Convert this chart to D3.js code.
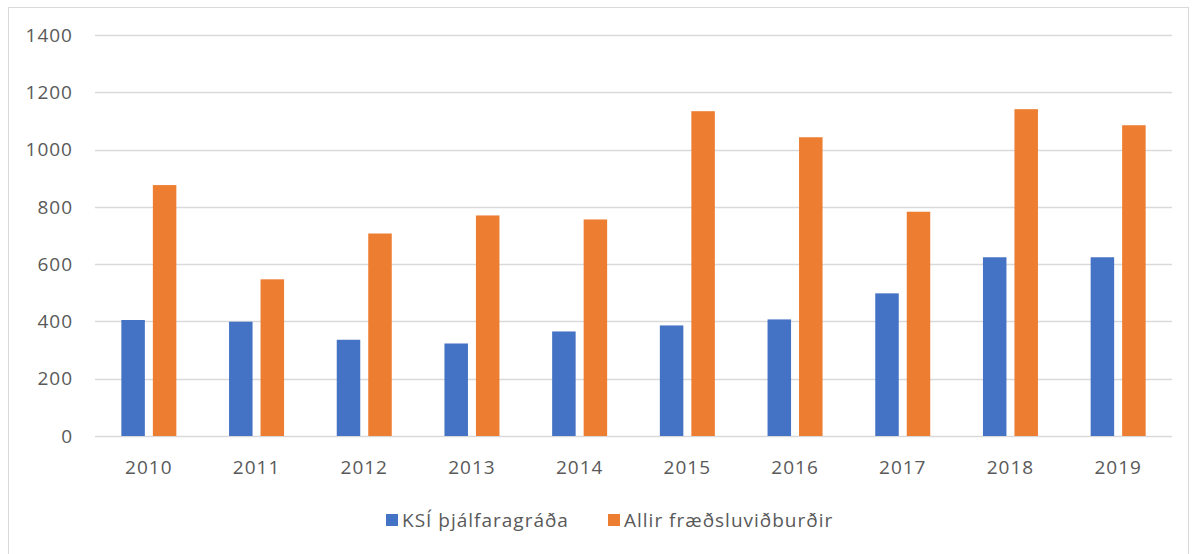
<!DOCTYPE html>
<html>
<head>
<meta charset="utf-8">
<script src="https://cdn.jsdelivr.net/npm/d3@7"></script>
<style>
  body { margin: 0; background: #fff; }
  text { font-family: "Open Sans", "Noto Sans", sans-serif; fill: #595959; letter-spacing: 1px; }
</style>
</head>
<body>
<svg id="chart"></svg>
<script>
// data
const years = ["2010", "2011", "2012", "2013", "2014", "2015", "2016", "2017", "2018", "2019"];
const ksiValues = [405, 399, 336, 323, 365, 386, 407, 498, 624, 624];
const allirValues = [876, 547, 707, 770, 756, 1134, 1043, 783, 1141, 1085];
const seriesNames = ["KSÍ þjálfaragráða", "Allir fræðsluviðburðir"];
const yTicks = [0, 200, 400, 600, 800, 1000, 1200, 1400];

const width = 1192;
const height = 554;
const margin = {left: 95, right: 20, top: 35, bottom: 118};
const colors = ["#4472C4", "#ED7D31"];

const svg = d3.select("#chart")
  .attr("width", width)
  .attr("height", height);

// outer frame
svg.append("rect")
  .attr("x", 8.5).attr("y", 7.5)
  .attr("width", 1180).attr("height", 560)
  .attr("fill", "none")
  .attr("stroke", "#d9d9d9");

var x = d3.scaleBand()
  .domain(years)
  .range([margin.left, width - margin.right]);

var y = d3.scaleLinear()
  .domain([0, 1400])
  .range([height - margin.bottom, margin.top]);

// gridlines
svg.append("g")
  .selectAll("line")
  .data(yTicks)
  .join("line")
  .attr("x1", margin.left)
  .attr("x2", width - margin.right)
  .attr("y1", d => Math.round(y(d)) + 0.5)
  .attr("y2", d => Math.round(y(d)) + 0.5)
  .attr("stroke", "#d9d9d9")
  .attr("stroke-width", 1.3);

// y labels
svg.append("g")
  .selectAll("text")
  .data(yTicks)
  .join("text")
  .attr("x", 73)
  .attr("y", d => y(d))
  .attr("dy", "0.35em")
  .attr("text-anchor", "end")
  .attr("font-size", 19)
  .text(d => d);

// x labels
svg.append("g")
  .selectAll("text")
  .data(years)
  .join("text")
  .attr("x", d => x(d) + x.bandwidth() / 2)
  .attr("y", 467)
  .attr("dy", "0.35em")
  .attr("text-anchor", "middle")
  .attr("font-size", 19)
  .text(d => d);

// bars
const barW = 23.5;
const gap = 8;
const series = [ksiValues, allirValues];

series.forEach((vals, i) => {
  svg.append("g")
    .selectAll("rect")
    .data(vals)
    .join("rect")
    .attr("x", (d, j) => x(years[j]) + x.bandwidth() / 2 - barW - gap / 2 + i * (barW + gap))
    .attr("y", d => y(d))
    .attr("width", barW)
    .attr("height", d => y(0) - y(d))
    .attr("fill", colors[i]);
});

// legend
const legendX = [386, 608];
const legend = svg.append("g");
seriesNames.forEach((name, i) => {
  legend.append("rect")
    .attr("x", legendX[i])
    .attr("y", 514)
    .attr("width", 12)
    .attr("height", 12)
    .attr("fill", colors[i]);
  legend.append("text")
    .attr("x", legendX[i] + 16)
    .attr("y", 520)
    .attr("dy", "0.35em")
    .attr("font-size", 19)
    .text(name);
});
</script>
</body>
</html>
